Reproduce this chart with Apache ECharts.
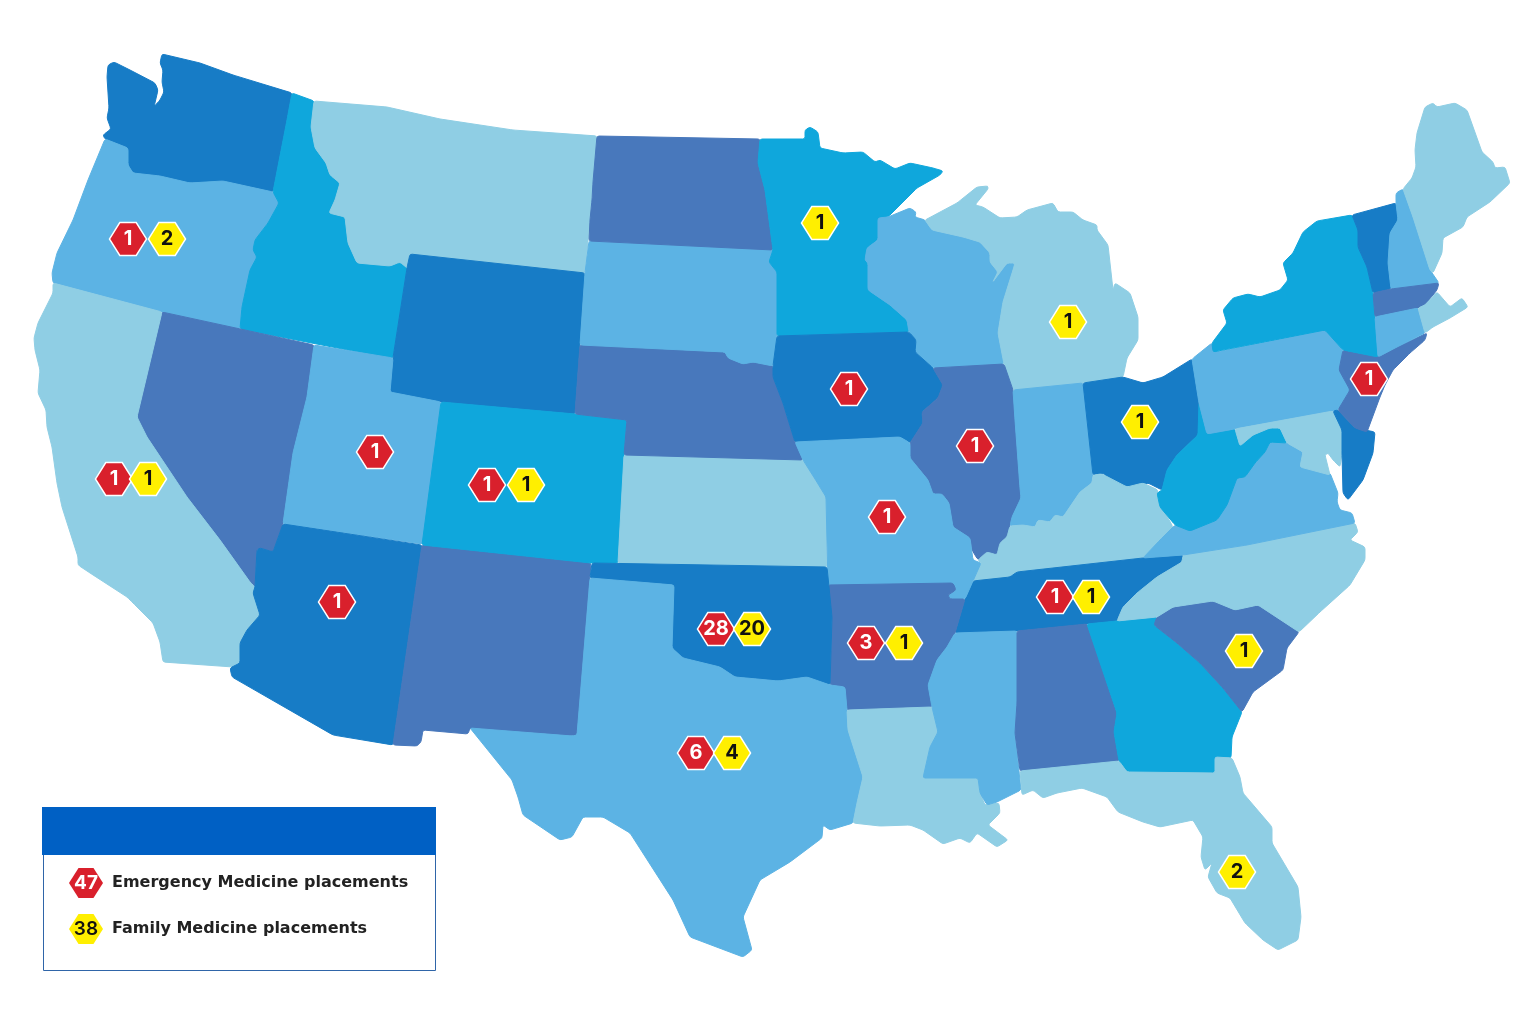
<!DOCTYPE html>
<html><head><meta charset="utf-8">
<style>html,body{margin:0;padding:0;background:#fff}#c{width:1536px;height:1024px}</style>
<script src="https://cdn.jsdelivr.net/npm/echarts@6/dist/echarts.min.js"></script>
</head><body><div id="c"></div>
<script>
// Shade group of every state
const lightest = ['Montana','California','Kansas','Michigan','Kentucky','Louisiana','Maryland','North Carolina','Florida','Maine','Rhode Island'];
const light = ['Oregon','Utah','South Dakota','Wisconsin','Indiana','Missouri','Texas','Mississippi','Virginia','Pennsylvania','New Hampshire','Connecticut'];
const cyan = ['Idaho','Colorado','Minnesota','West Virginia','Georgia','New York'];
const strong = ['Washington','Wyoming','Arizona','Oklahoma','Iowa','Ohio','Tennessee','Vermont','Delaware'];
const indigo = ['Nevada','New Mexico','North Dakota','Nebraska','Illinois','Arkansas','Alabama','South Carolina','New Jersey','Massachusetts'];

// Placements per state
const emStates = ['Oregon','California','Utah','Colorado','Arizona','Oklahoma','Texas','Arkansas','Iowa','Illinois','Missouri','Tennessee','New Jersey'];
const emCounts = [1,1,1,1,1,28,6,3,1,1,1,1,1];
const fmStates = ['Oregon','California','Colorado','Oklahoma','Texas','Arkansas','Minnesota','Michigan','Ohio','Tennessee','South Carolina','Florida'];
const fmCounts = [2,1,1,20,4,1,1,1,1,1,1,2];
const legendTotals = [47,38];
const seriesNames = ['Emergency Medicine placements','Family Medicine placements'];

// Where each badge sits, in map units
const emAnchors = {Oregon:[128,239],California:[114,479],Utah:[375,452],Colorado:[487,485],Arizona:[337,602],Oklahoma:[716,629],Texas:[696,753],Arkansas:[866,643],Iowa:[849,389],Illinois:[975,446],Missouri:[887,517],Tennessee:[1055,597],'New Jersey':[1369,379]};
const fmAnchors = {Oregon:[167,239],California:[148,479],Colorado:[526,485],Oklahoma:[752,629],Texas:[732,753],Arkansas:[904,643],Minnesota:[820,223],Michigan:[1068,322],Ohio:[1140,422],Tennessee:[1091,597],'South Carolina':[1244,651],Florida:[1237,872]};

// State outlines, map units (x right, y down)
const outlines = {
Washington:[[108,65],[114,62],[130,70],[155,83],[158,90],[154,107],[160,100],[164,92],[162,82],[163,70],[160,63],[162,54],[200,63],[233,75],[292,93],[287,120],[273,192],[223,181],[190,183],[160,176],[133,173],[128,165],[128,148],[105,139],[103,135],[111,129],[107,118],[109,108],[107,77]],
Oregon:[[105,139],[128,148],[128,165],[133,173],[160,176],[190,183],[223,181],[273,192],[279,203],[268,223],[255,240],[253,250],[257,257],[250,270],[242,307],[240,329],[162,312],[53,283],[52,273],[57,253],[73,220],[88,180]],
Idaho:[[292,93],[314,101],[311,127],[315,148],[326,163],[330,175],[340,183],[335,200],[329,213],[345,217],[348,243],[357,263],[390,266],[400,262],[407,268],[393,358],[373,355],[240,329],[242,307],[250,270],[257,257],[253,250],[255,240],[268,223],[279,203],[273,192],[287,120]],
Montana:[[314,101],[387,107],[440,119],[513,130],[597,136],[593,182],[590,220],[585,273],[410,254],[407,268],[400,262],[390,266],[357,263],[348,243],[345,217],[329,213],[335,200],[340,183],[330,175],[326,163],[315,148],[311,127]],
Wyoming:[[410,254],[585,273],[575,414],[441,402],[390,392],[393,358],[407,268]],
Nevada:[[162,312],[314,345],[307,397],[293,453],[283,524],[273,552],[260,548],[257,550],[255,587],[250,582],[220,540],[187,497],[147,437],[137,417]],
California:[[53,283],[162,312],[137,417],[147,437],[187,497],[220,540],[250,582],[255,587],[253,593],[260,615],[247,630],[240,643],[240,663],[233,667],[163,662],[160,642],[153,623],[133,603],[127,597],[90,573],[78,565],[78,557],[62,507],[57,483],[52,447],[47,427],[46,410],[38,393],[40,370],[35,350],[34,338],[38,323],[53,293]],
Utah:[[314,345],[393,358],[390,392],[441,402],[423,544],[283,524],[293,453],[307,397]],
Arizona:[[283,524],[422,545],[393,745],[333,735],[232,677],[230,668],[240,663],[240,643],[247,630],[260,615],[253,593],[255,587],[257,550],[260,548],[273,552]],
'New Mexico':[[422,545],[591,563],[577,735],[572,736],[470,728],[468,734],[423,730],[421,742],[417,746],[393,745]],
Colorado:[[441,402],[575,414],[627,420],[624,455],[618,563],[591,563],[422,545]],
Kansas:[[624,455],[803,460],[815,479],[826,497],[827,567],[618,563]],
Nebraska:[[580,345],[725,352],[728,358],[743,364],[753,362],[773,366],[773,377],[783,403],[795,442],[803,460],[624,455],[627,420],[575,414]],
'South Dakota':[[589,241],[773,250],[769,262],[777,272],[777,336],[773,366],[753,362],[743,364],[728,358],[725,352],[580,345],[585,273]],
'North Dakota':[[597,136],[760,139],[758,163],[765,190],[773,250],[589,241],[590,220],[592,200],[593,182]],
Minnesota:[[760,139],[805,139],[805,130],[810,127],[818,132],[820,148],[843,153],[863,152],[875,162],[880,160],[895,169],[910,163],[933,168],[943,171],[940,175],[917,188],[888,217],[880,218],[878,240],[867,248],[865,260],[868,263],[868,290],[890,305],[907,320],[909,332],[777,336],[777,272],[769,262],[773,250],[765,190],[758,163]],
Wisconsin:[[878,218],[888,217],[910,208],[916,212],[915,217],[925,220],[932,230],[963,237],[980,242],[990,253],[990,262],[998,272],[992,283],[1007,263],[1015,263],[1013,270],[1003,302],[998,333],[1004,364],[933,368],[915,352],[916,340],[909,332],[907,320],[890,305],[868,290],[868,263],[865,260],[867,248],[878,240]],
Michigan:[[927,219],[957,203],[977,187],[988,186],[988,189],[975,205],[983,207],[1000,218],[1017,217],[1027,210],[1053,203],[1058,212],[1073,212],[1083,220],[1097,225],[1097,230],[1108,245],[1113,290],[1115,283],[1130,293],[1138,317],[1138,340],[1127,358],[1123,377],[1083,383],[1013,390],[1004,364],[998,333],[1003,302],[1013,270],[1015,263],[1007,263],[992,283],[998,272],[990,262],[990,253],[980,242],[963,237],[932,230],[925,220]],
Iowa:[[777,336],[909,332],[916,340],[915,352],[933,368],[943,385],[938,398],[922,412],[923,423],[910,443],[900,437],[795,442],[783,403],[773,377],[773,366]],
Illinois:[[933,368],[1004,364],[1013,390],[1015,420],[1020,488],[1021,498],[1012,517],[1007,537],[1000,543],[997,555],[987,552],[978,560],[972,550],[970,538],[953,527],[949,503],[942,494],[933,494],[928,480],[910,458],[910,443],[923,423],[922,412],[938,398],[943,385]],
Indiana:[[1013,390],[1083,383],[1087,420],[1093,475],[1092,483],[1080,492],[1063,517],[1055,515],[1050,522],[1038,520],[1035,527],[1023,525],[1010,526],[1012,517],[1021,498],[1020,488],[1015,420]],
Ohio:[[1083,383],[1123,377],[1143,383],[1163,377],[1192,359],[1199,403],[1198,435],[1177,455],[1167,470],[1162,490],[1148,483],[1130,487],[1113,483],[1103,473],[1093,475]],
Kentucky:[[1093,475],[1102,474],[1127,487],[1143,483],[1158,490],[1157,498],[1173,527],[1143,558],[1017,572],[1010,577],[973,581],[981,563],[978,560],[987,552],[997,555],[1000,543],[1007,537],[1010,526],[1023,525],[1035,527],[1038,520],[1050,522],[1055,515],[1063,517],[1080,492],[1092,483]],
Tennessee:[[973,581],[1010,577],[1017,572],[1143,558],[1183,555],[1182,562],[1157,577],[1137,593],[1123,607],[1117,621],[1087,624],[1017,631],[955,633],[965,599]],
Missouri:[[795,442],[900,437],[910,443],[910,458],[928,480],[933,494],[942,494],[949,503],[953,527],[970,538],[973,560],[981,563],[973,581],[965,599],[950,599],[948,595],[956,590],[953,583],[828,585],[826,497],[815,479],[803,460]],
Arkansas:[[828,585],[953,583],[956,590],[948,595],[950,599],[965,599],[955,633],[947,647],[937,660],[928,685],[932,707],[847,710],[845,687],[830,685],[832,620]],
Oklahoma:[[592,563],[827,567],[832,617],[830,685],[807,677],[778,681],[757,679],[735,677],[720,667],[683,658],[672,648],[674,585],[590,578]],
Texas:[[590,578],[674,585],[672,648],[683,658],[720,667],[735,677],[757,679],[778,681],[807,677],[830,685],[845,687],[847,710],[848,730],[863,777],[857,803],[853,823],[830,830],[823,825],[822,838],[790,862],[760,880],[743,917],[752,950],[743,957],[690,937],[673,900],[630,833],[603,817],[583,817],[572,837],[560,840],[523,815],[518,797],[512,780],[470,728],[572,736],[577,735]],
Louisiana:[[847,710],[932,707],[938,732],[930,747],[923,778],[978,778],[980,793],[985,805],[999,803],[1000,813],[988,825],[1008,840],[997,847],[977,833],[970,843],[960,838],[943,844],[923,830],[910,825],[880,826],[853,823],[857,803],[863,777],[848,730]],
Mississippi:[[955,633],[1017,631],[1017,703],[1015,733],[1021,790],[997,802],[987,805],[980,793],[978,778],[923,778],[930,747],[938,732],[932,707],[928,685],[937,660],[947,647]],
Alabama:[[1017,631],[1087,624],[1117,713],[1114,732],[1119,761],[1020,771],[1015,733],[1017,703]],
Georgia:[[1087,624],[1157,617],[1154,625],[1177,643],[1200,663],[1223,688],[1242,712],[1232,737],[1231,758],[1215,757],[1215,773],[1127,772],[1119,761],[1114,732],[1117,713]],
'South Carolina':[[1157,617],[1173,607],[1213,601],[1235,610],[1258,605],[1299,632],[1287,648],[1283,670],[1253,692],[1242,712],[1223,688],[1200,663],[1177,643],[1154,625]],
'North Carolina':[[1117,621],[1123,607],[1137,593],[1157,577],[1182,562],[1183,555],[1247,545],[1355,523],[1358,532],[1350,540],[1365,547],[1365,560],[1350,585],[1320,612],[1299,632],[1258,605],[1235,610],[1213,601],[1173,607],[1157,617]],
Virginia:[[1143,558],[1160,540],[1175,525],[1190,531],[1217,520],[1227,505],[1237,478],[1255,463],[1265,452],[1270,442],[1287,443],[1303,452],[1300,467],[1330,473],[1338,493],[1337,502],[1340,510],[1352,513],[1355,523],[1247,545],[1183,555]],
'West Virginia':[[1199,403],[1207,434],[1235,429],[1240,446],[1253,435],[1270,428],[1280,428],[1287,443],[1270,442],[1265,452],[1255,463],[1245,477],[1237,478],[1227,505],[1217,520],[1190,531],[1175,525],[1160,507],[1157,493],[1162,490],[1167,470],[1177,455],[1198,435]],
Pennsylvania:[[1192,359],[1212,343],[1217,352],[1325,330],[1343,350],[1339,370],[1350,390],[1338,410],[1207,434],[1199,403]],
Maryland:[[1235,429],[1333,411],[1342,430],[1342,453],[1340,467],[1333,460],[1328,453],[1325,455],[1330,475],[1300,467],[1303,452],[1287,443],[1280,428],[1270,428],[1253,435],[1240,446]],
Delaware:[[1333,411],[1338,410],[1355,428],[1375,432],[1373,453],[1363,480],[1348,500],[1343,493],[1342,453],[1342,430]],
'New Jersey':[[1343,350],[1378,357],[1397,347],[1427,333],[1425,340],[1410,353],[1393,370],[1385,385],[1380,397],[1367,432],[1355,428],[1338,410],[1350,390],[1339,370]],
'New York':[[1213,352],[1212,343],[1227,323],[1223,310],[1233,298],[1248,294],[1260,297],[1280,290],[1288,280],[1283,263],[1293,253],[1303,232],[1317,221],[1352,215],[1358,230],[1358,247],[1367,267],[1373,293],[1375,317],[1378,357],[1343,350],[1325,330]],
Vermont:[[1352,215],[1396,203],[1398,220],[1390,233],[1388,263],[1391,289],[1373,293],[1367,267],[1358,247],[1358,230]],
'New Hampshire':[[1396,193],[1403,189],[1413,217],[1430,270],[1439,283],[1391,289],[1388,263],[1390,233],[1398,220],[1396,203]],
Maine:[[1403,189],[1412,178],[1416,167],[1415,150],[1417,133],[1425,107],[1433,103],[1437,107],[1455,103],[1467,110],[1482,152],[1493,162],[1495,168],[1505,167],[1510,183],[1490,202],[1467,217],[1463,227],[1443,238],[1442,253],[1433,273],[1430,270],[1413,217]],
Massachusetts:[[1373,293],[1391,289],[1439,283],[1437,290],[1425,305],[1418,308],[1375,317]],
Connecticut:[[1375,317],[1418,308],[1425,333],[1397,347],[1378,357]],
'Rhode Island':[[1418,308],[1425,305],[1437,292],[1450,307],[1462,298],[1468,307],[1450,318],[1433,327],[1425,333]],
Florida:[[1020,771],[1119,761],[1127,772],[1215,773],[1215,757],[1232,758],[1240,777],[1243,793],[1272,827],[1272,843],[1298,887],[1301,917],[1298,940],[1278,950],[1263,940],[1245,923],[1230,898],[1217,893],[1208,877],[1212,863],[1205,870],[1201,857],[1203,837],[1193,820],[1160,827],[1143,822],[1118,812],[1107,797],[1082,788],[1057,793],[1043,798],[1033,790],[1022,795]]
};

// Soften outline corners a little, as the drawn map has rounded edges
function soften(pts,cut){
  const out=[];const n=pts.length;
  for(let i=0;i<n;i++){
    const p=pts[i],a=pts[(i+n-1)%n],b=pts[(i+1)%n];
    const da=Math.hypot(a[0]-p[0],a[1]-p[1]),db=Math.hypot(b[0]-p[0],b[1]-p[1]);
    const ca=Math.min(cut,da*0.33),cb=Math.min(cut,db*0.33);
    out.push([p[0]+(a[0]-p[0])*ca/da,p[1]+(a[1]-p[1])*ca/da]);
    out.push([p[0]*0.5+(p[0]+(a[0]-p[0])*ca/da+p[0]+(b[0]-p[0])*cb/db)*0.25,p[1]*0.5+(p[1]+(a[1]-p[1])*ca/da+p[1]+(b[1]-p[1])*cb/db)*0.25]);
    out.push([p[0]+(b[0]-p[0])*cb/db,p[1]+(b[1]-p[1])*cb/db]);
  }
  return out;
}

const shades = [[lightest,'#8fcee4'],[light,'#5cb3e4'],[cyan,'#0fa7dc'],[strong,'#177cc6'],[indigo,'#4878bc']];
const geoJson = {type:'FeatureCollection',features:Object.keys(outlines).map(n=>{
  const s=soften(outlines[n],2.2);
  return {type:'Feature',properties:{name:n},
    geometry:{type:'Polygon',coordinates:[s.concat([s[0]]).map(p=>[p[0],-p[1]])]}};
})};
echarts.registerMap('usa',geoJson);

const regions = [];
shades.forEach(([names,color])=>names.forEach(n=>regions.push({name:n,itemStyle:{areaColor:color,borderColor:color,borderWidth:1}})));

const hexPath = 'path://M0,50 L28,0 L72,0 L100,50 L72,100 L28,100 Z';
const FONT = 'Inter';
const LEGEND_FONT = 'DejaVu Sans';
function points(states,counts,anchors){
  return states.map((s,i)=>({name:s,value:[anchors[s][0],-anchors[s][1],counts[i]]}));
}
function badge(name,color,textColor,data){
  return {name,type:'scatter',coordinateSystem:'geo',geoIndex:0,symbol:hexPath,symbolSize:[37,33],symbolKeepAspect:false,
    itemStyle:{color,opacity:1,borderColor:'#fff',borderWidth:1.5},
    label:{show:true,position:'inside',color:textColor,fontFamily:FONT,fontWeight:700,fontSize:20,formatter:p=>p.value[2]},
    emphasis:{disabled:true},silent:true,data,z:5};
}
const chart = echarts.init(document.getElementById('c'),null,{renderer:'canvas',width:1536,height:1024});
chart.setOption({
  animation:false,backgroundColor:'#fff',
  geo:{map:'usa',left:0,top:0,width:1536,height:1024,aspectScale:1,boundingCoords:[[0,0],[1536,-1024]],roam:false,silent:true,
    label:{show:false},itemStyle:{areaColor:'#8fcee4',borderWidth:0},regions},
  legend:{show:true,orient:'vertical',left:69,top:868,padding:0,itemWidth:34,itemHeight:30,itemGap:16,selectedMode:false,symbolKeepAspect:false,
    itemStyle:{borderWidth:0},
    data:seriesNames,
    textStyle:{fontFamily:LEGEND_FONT,fontWeight:700,fontSize:16,color:'#222',padding:[6,0,0,4]}},
  graphic:[
    {type:'rect',z:0,silent:true,shape:{x:43.5,y:807.5,width:392,height:163},style:{fill:'#fff',stroke:'#2f65a8',lineWidth:1}},
    {type:'rect',z:1,silent:true,shape:{x:42,y:807,width:394,height:48},style:{fill:'#0060c4'}},
    {type:'text',z:100,silent:true,x:86,y:883,style:{text:String(legendTotals[0]),fill:'#fff',font:'700 19px '+FONT,textAlign:'center',textVerticalAlign:'middle'}},
    {type:'text',z:100,silent:true,x:86,y:929,style:{text:String(legendTotals[1]),fill:'#111',font:'600 19px '+FONT,textAlign:'center',textVerticalAlign:'middle'}}
  ],
  series:[
    badge(seriesNames[0],'#d9202c','#fff',points(emStates,emCounts,emAnchors)),
    badge(seriesNames[1],'#ffef00','#111',points(fmStates,fmCounts,fmAnchors))
  ]
});
</script></body></html>
